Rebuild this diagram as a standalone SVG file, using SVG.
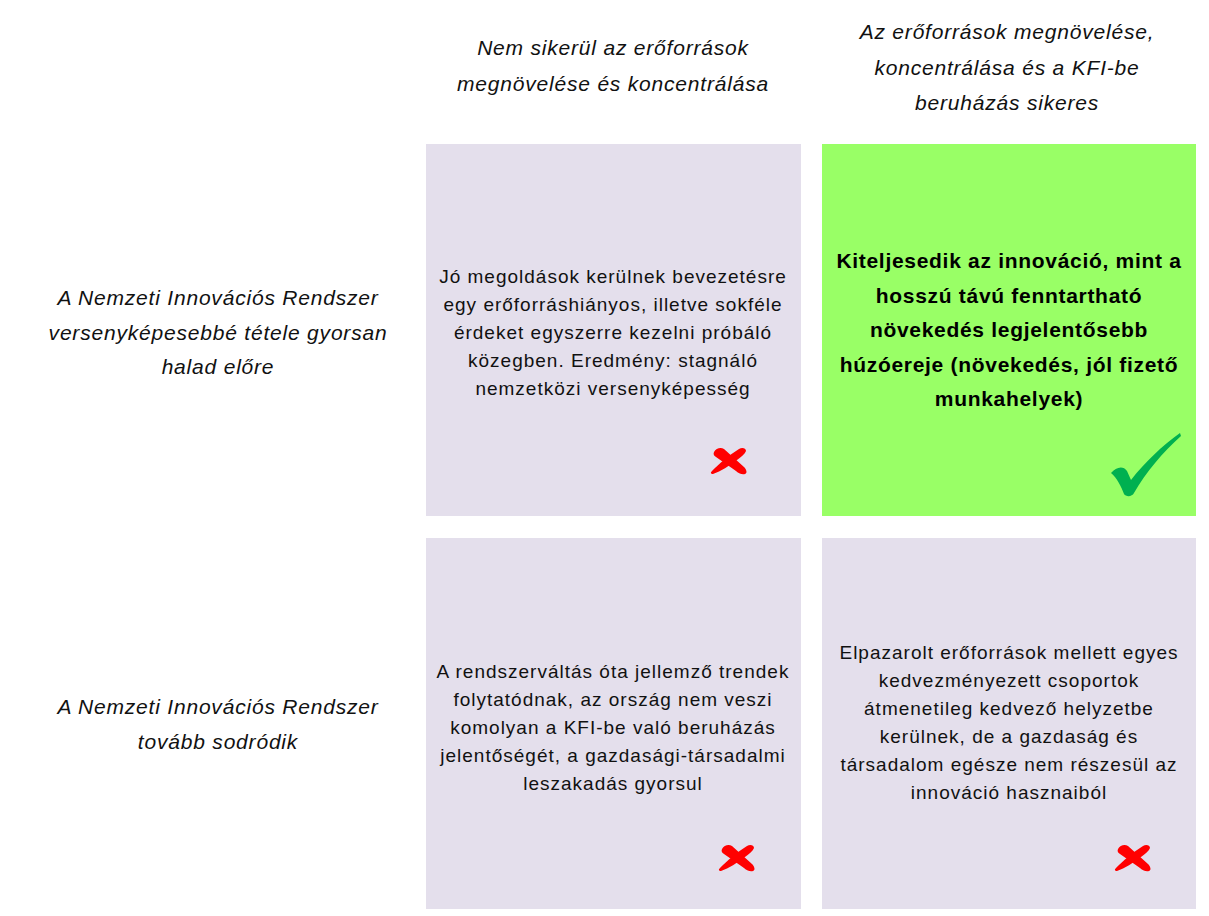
<svg xmlns="http://www.w3.org/2000/svg" width="1209" height="916" viewBox="0 0 1209 916">
  <style>
    .cell { fill: #E4DFEC; }
    .cell-ok { fill: #99FF66; }
    .hdr { font-family: "Liberation Sans", Arial, sans-serif; font-style: italic; font-size: 21px; letter-spacing: 0.8px; fill: #111; text-anchor: middle; }
    .body { font-family: "Liberation Sans", Arial, sans-serif; font-size: 19px; letter-spacing: 1px; fill: #111; text-anchor: middle; }
    .bold { font-family: "Liberation Sans", Arial, sans-serif; font-size: 21px; letter-spacing: 0.7px; font-weight: bold; fill: #000; text-anchor: middle; }
    .cross { fill: #FF0000; }
    .tick { fill: #00B050; }
  </style>
  <defs>
    <g id="cross-mark">
      <path class="cross" d="M3,6 C5,2 10,1 13,3 L33,21 C35,23 37,27 34,28 C31,29 27,27 25,25 L5,11 C3,10 2,8 3,6 Z"/>
      <path class="cross" d="M28,3 C31,1 35,2 35,5 C34,8 30,11 26,14 C18,20 10,25 2,28 C0,28 -1,27 1,25 C8,18 18,9 28,3 Z"/>
    </g>
  </defs>

  <rect width="1209" height="916" fill="#FFFFFF"/>

  <!-- column headings -->
  <g id="col-fail">
    <text class="hdr" x="613" y="55">Nem sikerül az erőforrások</text>
    <text class="hdr" x="613" y="91">megnövelése és koncentrálása</text>
  </g>
  <g id="col-success">
    <text class="hdr" x="1007" y="39">Az erőforrások megnövelése,</text>
    <text class="hdr" x="1007" y="75">koncentrálása és a KFI-be</text>
    <text class="hdr" x="1007" y="110">beruházás sikeres</text>
  </g>

  <!-- row headings -->
  <g id="row-fast">
    <text class="hdr" x="218" y="305">A Nemzeti Innovációs Rendszer</text>
    <text class="hdr" x="218" y="340">versenyképesebbé tétele gyorsan</text>
    <text class="hdr" x="218" y="374">halad előre</text>
  </g>
  <g id="row-drift">
    <text class="hdr" x="218" y="714">A Nemzeti Innovációs Rendszer</text>
    <text class="hdr" x="218" y="749">tovább sodródik</text>
  </g>

  <!-- top-left cell -->
  <g id="cell-fast-fail">
    <rect class="cell" x="426" y="144" width="375" height="372"/>
    <text class="body" x="613" y="283">Jó megoldások kerülnek bevezetésre</text>
    <text class="body" x="613" y="311">egy erőforráshiányos, illetve sokféle</text>
    <text class="body" x="613" y="339">érdeket egyszerre kezelni próbáló</text>
    <text class="body" x="613" y="367">közegben. Eredmény: stagnáló</text>
    <text class="body" x="613" y="395">nemzetközi versenyképesség</text>
    <use href="#cross-mark" x="711" y="446"/>
  </g>

  <!-- top-right cell -->
  <g id="cell-fast-success">
    <rect class="cell-ok" x="822" y="144" width="374" height="372"/>
    <text class="bold" x="1009" y="268">Kiteljesedik az innováció, mint a</text>
    <text class="bold" x="1009" y="303">hosszú távú fenntartható</text>
    <text class="bold" x="1009" y="337">növekedés legjelentősebb</text>
    <text class="bold" x="1009" y="372">húzóereje (növekedés, jól fizető</text>
    <text class="bold" x="1009" y="406">munkahelyek)</text>
    <path class="tick" d="M1111,473 C1116,467 1123,465 1127,471 L1131,480 C1145,462 1162,446 1180,433 L1181,436 C1163,452 1146,472 1134,493 C1132,497 1126,497 1124,494 C1121,486 1117,478 1111,473 Z"/>
  </g>

  <!-- bottom-left cell -->
  <g id="cell-drift-fail">
    <rect class="cell" x="426" y="538" width="375" height="371"/>
    <text class="body" x="613" y="678">A rendszerváltás óta jellemző trendek</text>
    <text class="body" x="613" y="706">folytatódnak, az ország nem veszi</text>
    <text class="body" x="613" y="734">komolyan a KFI-be való beruházás</text>
    <text class="body" x="613" y="762">jelentőségét, a gazdasági-társadalmi</text>
    <text class="body" x="613" y="790">leszakadás gyorsul</text>
    <use href="#cross-mark" x="719" y="843"/>
  </g>

  <!-- bottom-right cell -->
  <g id="cell-drift-success">
    <rect class="cell" x="822" y="538" width="374" height="371"/>
    <text class="body" x="1009" y="659">Elpazarolt erőforrások mellett egyes</text>
    <text class="body" x="1009" y="687">kedvezményezett csoportok</text>
    <text class="body" x="1009" y="715">átmenetileg kedvező helyzetbe</text>
    <text class="body" x="1009" y="743">kerülnek, de a gazdaság és</text>
    <text class="body" x="1009" y="771">társadalom egésze nem részesül az</text>
    <text class="body" x="1009" y="799">innováció hasznaiból</text>
    <use href="#cross-mark" x="1115" y="843"/>
  </g>

  <g id="connectors"/>
</svg>
